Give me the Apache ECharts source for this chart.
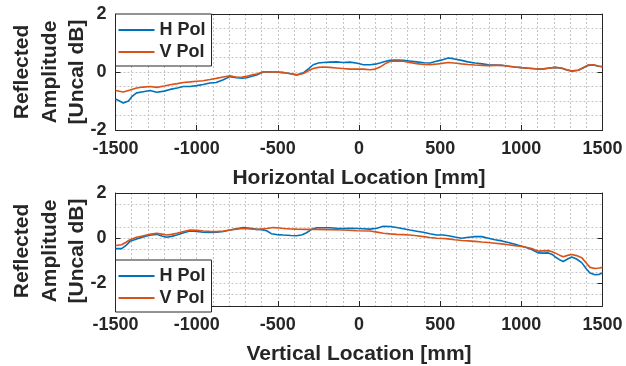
<!DOCTYPE html>
<html>
<head>
<meta charset="utf-8">
<script src="https://cdn.jsdelivr.net/npm/echarts@6/dist/echarts.min.js"></script>
<style>
html,body{margin:0;padding:0;background:#fff;}
#chart{width:626px;height:366px;}
</style>
</head>
<body>
<div id="chart"></div>
<script>
// ---- Data ----
const seriesNames = ['H Pol', 'V Pol'];
const xTickLabels = [-1500, -1000, -500, 0, 500, 1000, 1500];
const topYTickLabels = [-2, 0, 2];
const bottomYTickLabels = [-2, 0, 2];
const topXTitle = 'Horizontal Location [mm]';
const bottomXTitle = 'Vertical Location [mm]';
const yTitleLines = ['Reflected', 'Amplitude', '[Uncal dB]'];

// Top plot (horizontal scan)
const topHx = [-1500,-1475,-1452,-1420,-1400,-1370,-1330,-1287,-1246,-1200,-1164,-1120,-1082,-1040,-1000,-960,-918,-880,-836,-795,-754,-720,-692,-660,-630,-590,-548,-508,-466,-420,-384,-343,-310,-282,-250,-220,-180,-138,-100,-55,-10,27,68,100,129,160,191,230,273,310,355,400,437,470,500,550,580,632,670,715,760,797,840,879,920,961,1000,1043,1085,1125,1165,1207,1248,1280,1310,1351,1380,1413,1445,1474,1500];
const topHy = [-0.93,-1.0,-1.07,-1.0,-0.85,-0.72,-0.68,-0.64,-0.7,-0.66,-0.6,-0.55,-0.5,-0.5,-0.47,-0.43,-0.38,-0.36,-0.27,-0.16,-0.2,-0.21,-0.2,-0.15,-0.1,0.0,0.0,0.0,-0.02,-0.06,-0.1,-0.03,0.12,0.25,0.31,0.33,0.34,0.35,0.33,0.34,0.3,0.25,0.25,0.27,0.31,0.36,0.4,0.41,0.4,0.38,0.35,0.32,0.31,0.36,0.4,0.48,0.46,0.4,0.35,0.31,0.28,0.25,0.24,0.23,0.2,0.17,0.15,0.13,0.11,0.1,0.13,0.16,0.13,0.07,0.03,0.06,0.14,0.23,0.24,0.2,0.18];
const topVx = [-1500,-1452,-1410,-1370,-1330,-1287,-1246,-1200,-1164,-1120,-1082,-1040,-1000,-960,-918,-880,-836,-795,-754,-720,-692,-660,-630,-590,-548,-508,-466,-420,-384,-343,-310,-282,-250,-220,-180,-138,-100,-55,27,68,100,129,160,191,230,273,310,355,400,437,470,500,550,600,632,670,715,760,797,840,879,920,961,1000,1043,1085,1125,1165,1207,1248,1280,1310,1351,1380,1413,1445,1474,1500];
const topVy = [-0.64,-0.69,-0.62,-0.55,-0.52,-0.5,-0.53,-0.48,-0.44,-0.4,-0.36,-0.34,-0.32,-0.3,-0.26,-0.22,-0.17,-0.13,-0.18,-0.17,-0.15,-0.1,-0.07,0.01,0.0,0.0,-0.02,-0.06,-0.1,-0.05,0.05,0.12,0.16,0.17,0.16,0.14,0.12,0.1,0.1,0.08,0.1,0.17,0.28,0.36,0.38,0.37,0.33,0.29,0.26,0.25,0.27,0.29,0.33,0.3,0.28,0.26,0.24,0.23,0.22,0.23,0.23,0.2,0.17,0.15,0.13,0.11,0.1,0.13,0.16,0.14,0.08,0.04,0.06,0.15,0.24,0.25,0.21,0.18];

// Bottom plot (vertical scan)
const botHx = [-1500,-1462,-1435,-1411,-1370,-1340,-1308,-1280,-1246,-1215,-1185,-1155,-1123,-1080,-1041,-1000,-959,-920,-877,-835,-795,-755,-713,-670,-630,-600,-569,-540,-508,-466,-420,-384,-350,-323,-290,-261,-220,-179,-140,-97,-55,-14,27,68,110,150,190,232,273,314,355,396,437,479,520,550,590,632,675,715,756,797,838,880,920,961,1002,1035,1064,1085,1105,1135,1166,1190,1207,1235,1258,1285,1310,1340,1372,1400,1423,1454,1480,1500];
const botHy = [-0.46,-0.46,-0.32,-0.14,-0.03,0.03,0.1,0.14,0.17,0.1,0.04,0.08,0.14,0.24,0.32,0.3,0.26,0.25,0.26,0.3,0.36,0.42,0.47,0.44,0.39,0.38,0.33,0.2,0.16,0.14,0.12,0.11,0.15,0.24,0.4,0.46,0.46,0.46,0.44,0.43,0.44,0.43,0.42,0.4,0.44,0.53,0.52,0.47,0.42,0.36,0.31,0.26,0.2,0.14,0.14,0.11,0.05,0.0,0.04,0.07,0.07,0.0,-0.07,-0.12,-0.19,-0.27,-0.36,-0.42,-0.5,-0.58,-0.65,-0.66,-0.65,-0.72,-0.82,-0.95,-1.03,-0.92,-0.83,-0.92,-1.08,-1.35,-1.54,-1.62,-1.6,-1.54];
const botVx = [-1500,-1462,-1435,-1411,-1370,-1340,-1308,-1280,-1246,-1215,-1185,-1155,-1123,-1080,-1041,-1000,-959,-920,-877,-835,-795,-755,-713,-670,-630,-600,-569,-528,-490,-466,-420,-384,-323,-261,-179,-97,-14,68,110,150,190,232,273,314,355,396,437,479,520,550,590,632,675,715,756,797,838,880,920,961,1002,1035,1064,1085,1105,1135,1166,1190,1207,1235,1258,1285,1310,1340,1372,1400,1423,1454,1480,1500];
const botVy = [-0.32,-0.29,-0.18,-0.07,0.04,0.09,0.14,0.18,0.22,0.18,0.14,0.17,0.22,0.3,0.36,0.35,0.32,0.3,0.29,0.32,0.36,0.4,0.43,0.41,0.39,0.41,0.43,0.47,0.45,0.43,0.41,0.4,0.39,0.39,0.38,0.36,0.33,0.32,0.27,0.22,0.19,0.17,0.16,0.14,0.11,0.07,0.03,0.0,-0.01,-0.03,-0.07,-0.1,-0.12,-0.14,-0.17,-0.19,-0.22,-0.25,-0.29,-0.33,-0.36,-0.41,-0.46,-0.52,-0.57,-0.56,-0.55,-0.6,-0.65,-0.75,-0.82,-0.76,-0.72,-0.77,-0.86,-1.1,-1.29,-1.34,-1.32,-1.29];

// ---- Styling ----
const FONT = '"Liberation Sans", Arial, sans-serif';
const INK = '#262626';
const COLORS = ['#0072BD', '#D95319'];
const gridLineStyle = { color: '#c4c4c4', width: 1, type: [2, 2] };

const grids = [
  { left: 115.5, right: 23.5, top: 14, height: 116 },
  { left: 115.5, right: 23.5, top: 193, height: 116 }
];

function pairs(xs, ys) { return xs.map((x, i) => [x, ys[i]]); }
const plain = v => String(v);

function xAxes(gi, title) {
  const base = {
    type: 'value', gridIndex: gi, min: xTickLabels[0], max: xTickLabels[xTickLabels.length - 1], interval: 500,
    axisLine: { show: true, onZero: false, lineStyle: { color: INK, width: 1 } },
    axisTick: { show: true, inside: true, length: 5, lineStyle: { color: INK } }
  };
  return [
    Object.assign({}, base, {
      position: 'bottom',
      axisLabel: { margin: 10, color: INK, fontFamily: FONT, fontWeight: 'bold', fontSize: 18, formatter: plain },
      splitLine: { show: true, lineStyle: gridLineStyle },
      minorTick: { show: false, splitNumber: 5 },
      minorSplitLine: { show: true, lineStyle: gridLineStyle },
      name: title, nameLocation: 'middle', nameGap: 38,
      nameTextStyle: { color: INK, fontFamily: FONT, fontWeight: 'bold', fontSize: 21 }
    }),
    Object.assign({}, base, {
      position: 'top',
      axisLabel: { show: false },
      splitLine: { show: false }
    })
  ];
}

function yAxes(gi, min, max, interval, minorSplit, labels) {
  const base = {
    type: 'value', gridIndex: gi, min: min, max: max, interval: interval,
    axisLine: { show: true, onZero: false, lineStyle: { color: INK, width: 1 } },
    axisTick: { show: true, inside: true, length: 5, customValues: labels, lineStyle: { color: INK } }
  };
  return [
    Object.assign({}, base, {
      position: 'left',
      axisLabel: { customValues: labels, margin: 9, color: INK, fontFamily: FONT, fontWeight: 'bold', fontSize: 18, formatter: plain },
      splitLine: { show: true, lineStyle: gridLineStyle },
      minorTick: { show: false, splitNumber: minorSplit },
      minorSplitLine: { show: true, lineStyle: gridLineStyle }
    }),
    Object.assign({}, base, {
      position: 'right',
      axisLabel: { show: false },
      splitLine: { show: false }
    })
  ];
}

function lineSeries(name, data, xi, yi, color) {
  return {
    type: 'line', name: name, data: data, xAxisIndex: xi, yAxisIndex: yi,
    showSymbol: false, symbol: 'none', smooth: false, z: 5,
    lineStyle: { color: color, width: 1.6 }, itemStyle: { color: color }
  };
}

function legendAt(top) {
  return {
    data: seriesNames, orient: 'vertical', left: 115.5, top: top,
    icon: 'rect', padding: [6, 6, 4, 3], itemGap: 2, itemWidth: 36, itemHeight: 2,
    backgroundColor: '#ffffff', borderColor: INK, borderWidth: 1, borderRadius: 0,
    textStyle: { color: INK, fontFamily: FONT, fontWeight: 'bold', fontSize: 18, lineHeight: 20 },
    selectedMode: false
  };
}

function yTitle(centerY) {
  const xs = [22, 50, 77];
  return yTitleLines.map((t, i) => ({
    type: 'text', x: xs[i], y: centerY, rotation: Math.PI / 2,
    style: { text: t, fill: INK, font: 'bold 21px ' + FONT, textAlign: 'center', textVerticalAlign: 'middle' }
  }));
}

const chart = echarts.init(document.getElementById('chart'), null, { renderer: 'canvas' });
chart.setOption({
  backgroundColor: '#ffffff',
  animation: false,
  grid: grids,
  xAxis: [].concat(xAxes(0, topXTitle), xAxes(1, bottomXTitle)),
  yAxis: [].concat(yAxes(0, -2, 2, 2, 4, topYTickLabels), yAxes(1, -3, 2, 1, 2, bottomYTickLabels)),
  legend: [legendAt(14), legendAt(260)],
  series: [
    lineSeries(seriesNames[0], pairs(topHx, topHy), 0, 0, COLORS[0]),
    lineSeries(seriesNames[1], pairs(topVx, topVy), 0, 0, COLORS[1]),
    lineSeries(seriesNames[0], pairs(botHx, botHy), 2, 2, COLORS[0]),
    lineSeries(seriesNames[1], pairs(botVx, botVy), 2, 2, COLORS[1])
  ],
  graphic: [].concat(yTitle(72), yTitle(251))
});
</script>
</body>
</html>
